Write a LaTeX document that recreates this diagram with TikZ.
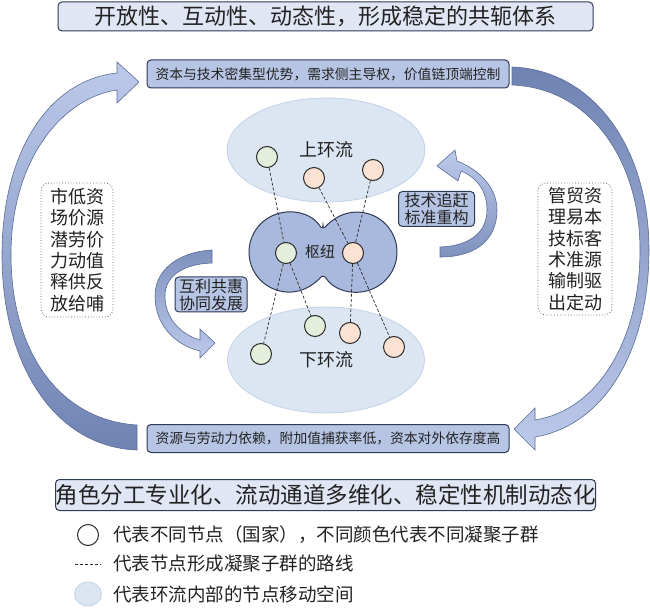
\documentclass[tikz,border=0pt]{standalone}
\usepackage{fontspec}
\setmainfont{Noto Sans CJK SC}
\usetikzlibrary{shapes.geometric}
\definecolor{txt}{HTML}{222222}
\definecolor{boxline}{HTML}{2F3A55}
\definecolor{titlefill}{HTML}{E0E6F4}
\definecolor{boxfill}{HTML}{B7C5E5}
\definecolor{poolfill}{HTML}{DCE6F2}
\definecolor{poolline}{HTML}{C3D2E6}
\definecolor{hubfill}{HTML}{A9B9DD}
\definecolor{gfill}{HTML}{E3EFDA}
\definecolor{ofill}{HTML}{FCE2D2}
\definecolor{nodeline}{HTML}{2B2B2B}
\definecolor{arrlight}{HTML}{BCCAEA}
\definecolor{arrdark}{HTML}{6F83B3}
\definecolor{arrline}{HTML}{5B6C96}
\definecolor{vline}{HTML}{555A66}
\begin{document}
\begin{tikzpicture}[x=1pt,y=-1pt,
  titlebox/.style={draw=boxline,fill=titlefill,rounded corners=4pt,line width=1pt,inner sep=0pt,text=txt,font=\fontsize{22}{24}\selectfont},
  bandbox/.style={draw=boxline,fill=boxfill,rounded corners=4pt,line width=1pt,inner sep=0pt,text=txt,font=\fontsize{13.8}{15}\selectfont},
  tagbox/.style={draw=boxline,fill=boxfill,rounded corners=4pt,line width=1pt,inner sep=0pt,text=txt,align=center,font=\fontsize{16}{17}\selectfont},
  vbox/.style={draw=vline,dotted,line width=0.8pt,rounded corners=8pt,fill=white,text=txt,align=center,inner sep=0pt,font=\fontsize{18}{21.3}\selectfont},
  pool/.style={ellipse,fill=poolfill,draw=poolline,line width=0.8pt,inner sep=0pt,text=txt,font=\fontsize{18}{20}\selectfont},
  gnode/.style={circle,draw=nodeline,fill=gfill,minimum size=21pt,inner sep=0pt,line width=1pt},
  onode/.style={circle,draw=nodeline,fill=ofill,minimum size=21pt,inner sep=0pt,line width=1pt},
  route/.style={draw=nodeline,line width=0.7pt,dash pattern=on 3pt off 2pt},
  legtext/.style={anchor=west,inner sep=0pt,text=txt,font=\fontsize{18.5}{20}\selectfont},
  bigarrow/.style={draw=arrline,line width=0.6pt}
]
\useasboundingbox (0,0) rectangle (650,609);

% big curved arrows
\shadedraw[bigarrow,top color=arrlight,bottom color=arrdark]
  (137,425) -- (137,450) .. controls (55,447) and (2,365) .. (2,255)
  .. controls (2,150) and (50,80) .. (117,73) -- (117,62) -- (139,82) -- (117,103) -- (117,90)
  .. controls (62,98) and (11,160) .. (11,255)
  .. controls (11,350) and (58,420) .. (137,425) -- cycle;
\shadedraw[bigarrow,top color=arrdark,bottom color=arrlight]
  (512,67) .. controls (595,70) and (649,150) .. (649,250)
  .. controls (649,350) and (605,425) .. (535,437) -- (535,450) -- (514,429) -- (535,408) -- (535,420)
  .. controls (598,410) and (640,340) .. (640,250)
  .. controls (640,160) and (590,88) .. (512,85) -- cycle;

% small curved arrows
\shadedraw[bigarrow,top color=arrdark!80!arrlight,bottom color=arrlight]
  (212,250) .. controls (178,252) and (155,270) .. (155,296)
  .. controls (155,325) and (175,345) .. (200,351) -- (200,358) -- (215,343) -- (200,329) -- (200,340)
  .. controls (180,334) and (165,318) .. (165,296)
  .. controls (165,276) and (183,264) .. (212,263) -- cycle;
\shadedraw[bigarrow,top color=arrlight,bottom color=arrdark!80!arrlight]
  (440,257) .. controls (478,257) and (497,238) .. (497,210)
  .. controls (497,188) and (480,170) .. (457,161) -- (455,150) -- (437,166) -- (458,181) -- (461,171)
  .. controls (478,178) and (487,192) .. (487,210)
  .. controls (487,232) and (470,246) .. (440,247) -- cycle;

% boxes
\node[titlebox,minimum width=535,minimum height=29] (title) at (325.5,16.5) {开放性、互动性、动态性，形成稳定的共轭体系};
\node[bandbox,minimum width=362,minimum height=28] (top) at (328,74) {资本与技术密集型优势，需求侧主导权，价值链顶端控制};
\node[bandbox,minimum width=362,minimum height=28] (bottom) at (328,438.5) {资源与劳动力依赖，附加值捕获率低，资本对外依存度高};
\node[titlebox,minimum width=535,minimum height=31,font=\fontsize{22.5}{24}\selectfont] (title2) at (325.5,495) {角色分工专业化、流动通道多维化、稳定性机制动态化};

\node[tagbox,minimum width=72,minimum height=35] (tagL) at (211,294.5) {互利共惠\\协同发展};
\node[tagbox,minimum width=76,minimum height=35] (tagR) at (436.5,209) {技术追赶\\标准重构};

\node[vbox,minimum width=72,minimum height=134] (vL) at (77,250) {市低资\\场价源\\潜劳价\\力动值\\释供反\\放给哺};
\node[vbox,minimum width=74,minimum height=132] (vR) at (575,249) {管贸资\\理易本\\技标客\\术准源\\输制驱\\出定动};

% pools
\node[pool,minimum width=198,minimum height=104] (up) at (326,150) {上环流};
\node[pool,minimum width=197,minimum height=106] (down) at (326,360) {下环流};

% hub
\filldraw[fill=hubfill,draw=boxline,line width=1pt,rounded corners=6pt]
  (323,231) arc[start angle=-31.8,end angle=-328.2,radius=40]
  arc[start angle=148.2,end angle=-148.2,radius=40] -- cycle;
\node[inner sep=0pt,text=txt,font=\fontsize{15}{16}\selectfont] (hub) at (320,252) {枢纽};

% nodes
\node[gnode] (u1) at (267,157) {};
\node[onode] (u2) at (314,178) {};
\node[onode] (u3) at (373,170) {};
\node[gnode] (h1) at (286,253) {};
\node[onode] (h2) at (353,253) {};
\node[gnode] (l1) at (261,354) {};
\node[gnode] (l2) at (315,326) {};
\node[onode] (l3) at (350,333) {};
\node[onode] (l4) at (394,347) {};

\draw[route] (u1) -- (h1);
\draw[route] (u2) -- (h2);
\draw[route] (u3) -- (h2);
\draw[route] (h1) -- (l1);
\draw[route] (h1) -- (l2);
\draw[route] (h2) -- (l3);
\draw[route] (h2) -- (l4);

% legend
\node[circle,draw=nodeline,fill=white,line width=1pt,minimum size=21pt,inner sep=0pt] (lg1) at (88,535) {};
\node[legtext] (lt1) at (113,535) {代表不同节点（国家），不同颜色代表不同凝聚子群};
\coordinate (lc1) at (75,564);
\coordinate (lc2) at (101,564);
\draw[route] (lc1) -- (lc2);
\node[legtext] (lt2) at (113,564) {代表节点形成凝聚子群的路线};
\node[ellipse,fill=poolfill,draw=poolline,line width=0.8pt,minimum width=27pt,minimum height=24pt,inner sep=0pt] (lg3) at (88,594) {};
\node[legtext] (lt3) at (113,594) {代表环流内部的节点移动空间};
\end{tikzpicture}
\end{document}
